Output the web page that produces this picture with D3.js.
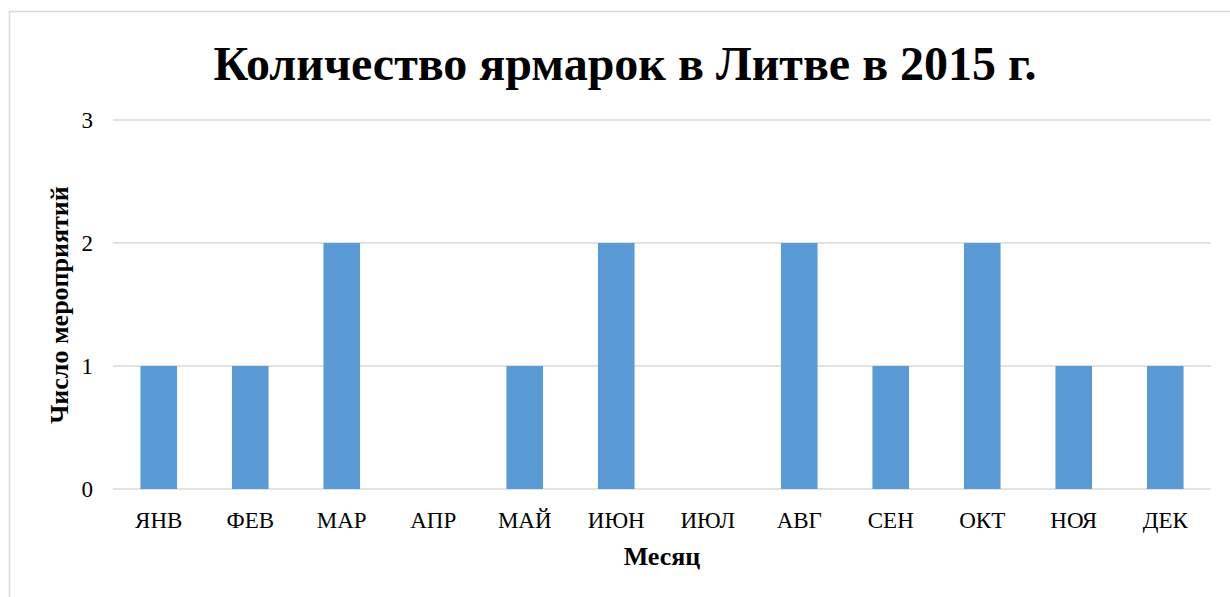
<!DOCTYPE html>
<html>
<head>
<meta charset="utf-8">
<script src="https://cdn.jsdelivr.net/npm/d3@7"></script>
<style>
  body { margin: 0; background: #fff; }
  svg text { font-family: "Liberation Serif", "Times New Roman", serif; fill: #000; }
</style>
</head>
<body>
<svg id="chart" width="1230" height="597"></svg>
<script>
const months = ['ЯНВ', 'ФЕВ', 'МАР', 'АПР', 'МАЙ', 'ИЮН', 'ИЮЛ', 'АВГ', 'СЕН', 'ОКТ', 'НОЯ', 'ДЕК']
const events = [1, 1, 2, 0, 1, 2, 0, 2, 1, 2, 1, 1]
const y_ticks = [0, 1, 2, 3]

const svg = d3.select('#chart')

// chart frame
svg.append('rect')
  .attr('x', 9.5).attr('y', 11.5)
  .attr('width', 1240).attr('height', 600)
  .attr('fill', 'none')
  .attr('stroke', '#d9d9d9')
  .attr('stroke-width', 1.5)

const x = d3.scaleBand()
  .domain(months)
  .range([113, 1211])
  .paddingInner(0.6)
  .paddingOuter(0.3)

const y = d3.scaleLinear()
  .domain([0, 3])
  .range([489, 120])

// gridlines
svg.append('g')
  .selectAll('line')
  .data(y_ticks)
  .enter()
  .append('line')
  .attr('x1', 113).attr('x2', 1211)
  .attr('y1', (d)=> y(d)).attr('y2', (d)=> y(d))
  .attr('stroke', '#d9d9d9')
  .attr('stroke-width', 1.5)

svg.append('g')
  .selectAll('rect')
  .data(events)
  .enter()
  .append('rect')
  .attr('x', (d, i)=> x(months[i]))
  .attr('y', (d)=> y(d))
  .attr('width', x.bandwidth())
  .attr('height', (d)=> y(0) - y(d))
  .attr('fill', '#5b9bd5')

// y tick labels
svg.append('g')
  .selectAll('text')
  .data(y_ticks)
  .enter()
  .append('text')
  .attr('x', 93)
  .attr('y', (d)=> y(d))
  .attr('dy', '0.35em')
  .attr('text-anchor', 'end')
  .attr('font-size', 23)
  .text((d)=> d)

// x tick labels
svg.append('g')
  .selectAll('text')
  .data(months)
  .enter()
  .append('text')
  .attr('x', (d)=> x(d) + x.bandwidth() / 2)
  .attr('y', 528)
  .attr('text-anchor', 'middle')
  .attr('font-size', 23)
  .text((d)=> d)

svg.append('text')
  .attr('x', 625).attr('y', 80)
  .attr('text-anchor', 'middle')
  .attr('font-size', 48)
  .attr('font-weight', 'bold')
  .text('Количество ярмарок в Литве в 2015 г.')

svg.append('text')
  .attr('x', 662).attr('y', 565)
  .attr('text-anchor', 'middle')
  .attr('font-size', 26)
  .attr('font-weight', 'bold')
  .text('Месяц')

svg.append('text')
  .attr('transform', 'translate(68,305) rotate(-90)')
  .attr('text-anchor', 'middle')
  .attr('font-size', 26)
  .attr('font-weight', 'bold')
  .text('Число мероприятий')
</script>
</body>
</html>
